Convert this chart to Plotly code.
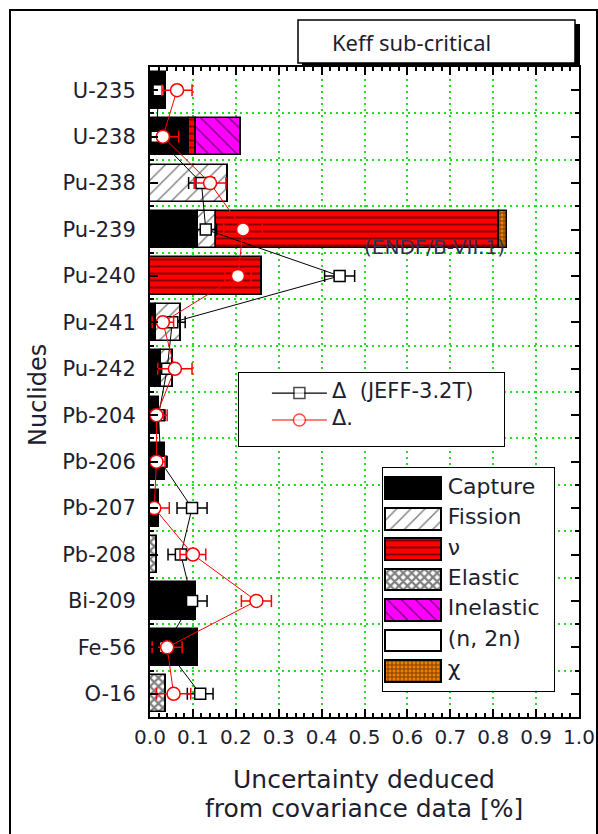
import numpy as np
import plotly.graph_objects as go

# ---------------- data ----------------
nuclides = ['U-235', 'U-238', 'Pu-238', 'Pu-239', 'Pu-240', 'Pu-241', 'Pu-242',
            'Pb-204', 'Pb-206', 'Pb-207', 'Pb-208', 'Bi-209', 'Fe-56', 'O-16']

capture   = [0.038, 0.090, 0.000, 0.113, 0.000, 0.015, 0.025, 0.020, 0.035, 0.022, 0.000, 0.108, 0.112, 0.000]
fission   = [0.000, 0.000, 0.182, 0.040, 0.000, 0.058, 0.028, 0.000, 0.000, 0.000, 0.000, 0.000, 0.000, 0.000]
nu        = [0.000, 0.017, 0.000, 0.660, 0.260, 0.000, 0.000, 0.000, 0.000, 0.000, 0.000, 0.000, 0.000, 0.000]
elastic   = [0.000, 0.000, 0.000, 0.000, 0.000, 0.000, 0.000, 0.000, 0.000, 0.000, 0.016, 0.000, 0.000, 0.037]
inelastic = [0.000, 0.104, 0.000, 0.000, 0.000, 0.000, 0.000, 0.000, 0.000, 0.000, 0.000, 0.000, 0.000, 0.000]
n2n       = [0.000, 0.000, 0.000, 0.000, 0.000, 0.000, 0.000, 0.000, 0.000, 0.000, 0.000, 0.000, 0.000, 0.000]
chi       = [0.000, 0.000, 0.000, 0.020, 0.000, 0.000, 0.000, 0.000, 0.000, 0.000, 0.000, 0.000, 0.000, 0.000]

jeff     = [0.020, 0.015, 0.120, 0.130, 0.442, 0.052, 0.040, 0.020, 0.025, 0.098, 0.072, 0.098, 0.035, 0.117]
jeff_err = [0.008, 0.008, 0.030, 0.025, 0.035, 0.030, 0.020, 0.015, 0.015, 0.035, 0.030, 0.035, 0.015, 0.030]
endf     = [0.063, 0.030, 0.140, 0.217, 0.205, 0.030, 0.058, 0.015, 0.015, 0.010, 0.100, 0.248, 0.040, 0.055]
endf_err = [0.035, 0.037, 0.037, 0.045, 0.030, 0.025, 0.040, 0.025, 0.020, 0.035, 0.030, 0.035, 0.035, 0.040]

components = ['Capture', 'Fission', 'ν', 'Elastic', 'Inelastic', '(n, 2n)', 'χ']
comp_values = [capture, fission, nu, elastic, inelastic, n2n, chi]

x_ticks = [0.0, 0.1, 0.2, 0.3, 0.4, 0.5, 0.6, 0.7, 0.8, 0.9, 1.0]
x_title = ['Uncertainty deduced', 'from covariance data [%]']
y_title = 'Nuclides'
box_title = 'Keff sub-critical'
line_labels = ['Δ  (JEFF-3.2T)', 'Δ.']
endf_note = '(ENDF/B-VII.1)'

# ---------------- styles ----------------
FONT = 'DejaVu Sans'
TXT = '#1e1e30'
GREEN = '#1ee01e'
styles = {
    'Capture':   dict(color='black'),
    'Fission':   dict(color='white', pattern=dict(shape='/', fgcolor='black', size=10, solidity=0.14)),
    'ν':         dict(color='#ff0000', pattern=dict(shape='-', fgcolor='black', size=7, solidity=0.28)),
    'Elastic':   dict(color='white', pattern=dict(shape='x', fgcolor='black', size=6, solidity=0.6)),
    'Inelastic': dict(color='#ff00ff', pattern=dict(shape='\\', fgcolor='black', size=10, solidity=0.15)),
    '(n, 2n)':   dict(color='white'),
    'χ':         dict(color='#f08000', pattern=dict(shape='+', fgcolor='black', size=4, solidity=0.45)),
}

# pixel geometry of the plot area (598x834 page)
L, R, T, B = 150, 579, 67, 717
W, H = R - L, B - T
def px(xp): return (xp - L) / W
def py(yp): return (B - yp) / H

fig = go.Figure()

ypos = np.arange(len(nuclides))
base = np.zeros(len(nuclides))
for name, vals in zip(components, comp_values):
    v = np.array(vals)
    st = styles[name]
    marker = dict(color=st['color'], line=dict(color='black', width=1.5))
    if 'pattern' in st:
        marker['pattern'] = st['pattern']
    fig.add_trace(go.Bar(x=v, y=ypos, base=base.copy(), orientation='h', width=0.8,
                         marker=marker, showlegend=False, name=name))
    base = base + v

fig.add_trace(go.Scatter(
    x=jeff, y=ypos, mode='lines+markers', showlegend=False,
    line=dict(color='black', width=1),
    marker=dict(symbol='square', size=11, color='white', line=dict(color='black', width=1.5)),
    error_x=dict(type='data', array=jeff_err, color='black', thickness=1.5, width=6)))
fig.add_trace(go.Scatter(
    x=endf, y=ypos, mode='lines+markers', showlegend=False,
    line=dict(color='#ff0000', width=1),
    marker=dict(symbol='circle', size=13, color='white', line=dict(color='#ff0000', width=1.5)),
    error_x=dict(type='data', array=endf_err, color='#ff0000', thickness=1.5, width=6)))

# ---------------- legend 2 (components) on its own axes ----------------
nrow = len(components)
fig.add_trace(go.Bar(x=[1], y=[(nrow - 1) / 2], base=[0], width=[nrow - 1 + 2 * 0.69], orientation='h',
                     marker=dict(color='white', line=dict(color='black', width=2)),
                     xaxis='x3', yaxis='y3', showlegend=False, hoverinfo='skip'))
for i, name in enumerate(components):
    st = styles[name]
    marker = dict(color=st['color'], line=dict(color='black', width=2))
    if 'pattern' in st:
        marker['pattern'] = st['pattern']
    fig.add_trace(go.Bar(x=[0.324], y=[i], base=[0.017], width=[0.72], orientation='h',
                         marker=marker, xaxis='x3', yaxis='y3', showlegend=False, hoverinfo='skip'))
fig.add_trace(go.Scatter(x=[0.38] * nrow, y=list(range(nrow)), mode='text', text=components,
                         textposition='middle right', textfont=dict(family=FONT, size=22, color=TXT),
                         xaxis='x3', yaxis='y3', showlegend=False, hoverinfo='skip'))

# ---------------- legend 1 (lines) on its own axes ----------------
fig.add_trace(go.Bar(x=[1], y=[0.61], base=[0], width=[2.78], orientation='h',
                     marker=dict(color='white', line=dict(color='black', width=2)),
                     xaxis='x4', yaxis='y4', showlegend=False, hoverinfo='skip'))
for i, (col, sym, sz) in enumerate([('black', 'square', 11), ('#ff0000', 'circle', 12)]):
    fig.add_trace(go.Scatter(x=[0.127, 0.23, 0.333], y=[i, i, i], mode='lines+markers',
                             line=dict(color=col, width=1.2),
                             marker=dict(symbol=sym, size=[0, sz, 0], color='white',
                                         line=dict(color=col, width=[0, 1.5, 0])),
                             xaxis='x4', yaxis='y4', showlegend=False, hoverinfo='skip'))
fig.add_trace(go.Scatter(x=[0.352, 0.352], y=[0, 1], mode='text', text=line_labels,
                         textposition='middle right', textfont=dict(family=FONT, size=21, color=TXT),
                         xaxis='x4', yaxis='y4', showlegend=False, hoverinfo='skip'))

hidden = dict(visible=False, fixedrange=True)
fig.update_layout(
    width=598, height=834, autosize=False,
    margin=dict(l=L, r=598 - R, t=T, b=834 - B, pad=0),
    paper_bgcolor='white', plot_bgcolor='white',
    barmode='overlay', bargap=0,
    font=dict(family=FONT, color=TXT),
    xaxis=dict(range=[0, 1], tickvals=x_ticks, ticktext=[f'{v:.1f}' for v in x_ticks],
               automargin=False,
               ticks='inside', ticklen=8, tickwidth=1.5, tickcolor='black',
               showline=True, linecolor='black', linewidth=2, mirror='ticks',
               showgrid=True, gridcolor=GREEN, griddash='2px,4px', gridwidth=2,
               zeroline=False, tickfont=dict(family=FONT, size=20, color=TXT),
               minor=dict(dtick=0.02, tick0=0, ticks='inside', ticklen=4, tickwidth=1.5,
                          tickcolor='black', showgrid=False),
               ticklabelstandoff=1),
    yaxis=dict(range=[13.5, -0.5], tickvals=list(ypos), ticktext=nuclides,
               automargin=False,
               ticks='inside', ticklen=8, tickwidth=1.5, tickcolor='black',
               showline=True, linecolor='black', linewidth=2, mirror='ticks',
               showgrid=False, zeroline=False, tickfont=dict(family=FONT, size=21, color=TXT),
               minor=dict(dtick=1, tick0=0.5, ticks='inside', ticklen=4, tickwidth=1.5,
                          tickcolor='black', showgrid=True, gridcolor=GREEN,
                          griddash='2px,4px', gridwidth=2),
               ticklabelstandoff=8),
    xaxis3=dict(domain=[px(382), px(555)], range=[0, 1], anchor='y3', automargin=False, **hidden),
    yaxis3=dict(domain=[py(692), py(467)], range=[nrow - 1 + 0.69, -0.69], anchor='x3',
                automargin=False, **hidden),
    xaxis4=dict(domain=[px(238), px(505)], range=[0, 1], anchor='y4', automargin=False, **hidden),
    yaxis4=dict(domain=[py(447), py(372)], range=[2.0, -0.78], anchor='x4', automargin=False, **hidden),
)

shapes = [
    # outer frame
    dict(type='rect', xref='paper', yref='paper', x0=px(10), x1=px(597), y0=py(845), y1=py(10),
         line=dict(color='black', width=2), fillcolor='rgba(0,0,0,0)', layer='above'),
    # title box shadow + box
    dict(type='rect', xref='paper', yref='paper', x0=px(302), x1=px(580), y0=py(67), y1=py(24),
         line=dict(width=0), fillcolor='black', layer='above'),
    dict(type='rect', xref='paper', yref='paper', x0=px(298), x1=px(575), y0=py(63), y1=py(20),
         line=dict(color='black', width=1.5), fillcolor='white', layer='above'),
]
fig.update_layout(shapes=shapes)

annotations = [
    dict(text=box_title, xref='paper', yref='paper', x=px(411), y=py(42), showarrow=False,
         font=dict(family='Noto Sans', size=22, color=TXT), xanchor='center', yanchor='middle'),
    dict(text=y_title, xref='paper', yref='paper', x=px(38), y=py(395), showarrow=False,
         textangle=-90, font=dict(family=FONT, size=24, color=TXT), xanchor='center', yanchor='middle'),
    dict(text=x_title[0], xref='paper', yref='paper', x=px(364), y=py(779), showarrow=False,
         font=dict(family=FONT, size=25, color=TXT), xanchor='center', yanchor='middle'),
    dict(text=x_title[1], xref='paper', yref='paper', x=px(364), y=py(808), showarrow=False,
         font=dict(family=FONT, size=25, color=TXT), xanchor='center', yanchor='middle'),
    dict(text=endf_note, xref='paper', yref='paper', x=px(362), y=py(247), showarrow=False,
         font=dict(family=FONT, size=20, color='#303050'), xanchor='left', yanchor='middle'),
]
fig.update_layout(annotations=annotations)

fig.write_html('out.html')
